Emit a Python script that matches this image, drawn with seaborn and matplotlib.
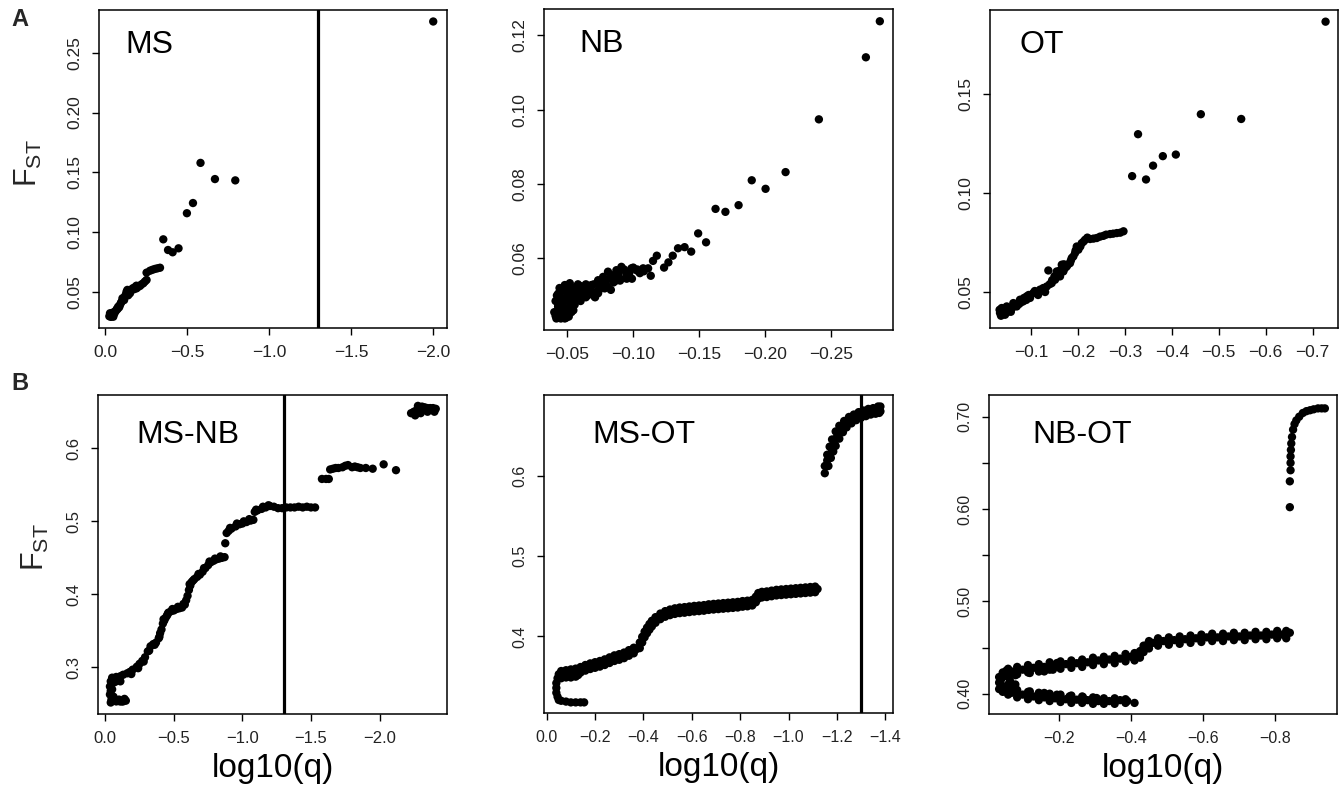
import matplotlib
matplotlib.use("Agg")
import matplotlib.pyplot as plt
import seaborn as sns
import pandas as pd

# ---------------- data ----------------
ms_x = [-2.0, -0.581, -0.669, -0.793, -0.535, -0.498, -0.354, -0.383, -0.411, -0.447,
        -0.334, -0.318, -0.303, -0.288, -0.273, -0.252, -0.252, -0.242, -0.232, -0.212,
        -0.191, -0.181, -0.161, -0.151, -0.130, -0.120, -0.110, -0.100, -0.090, -0.079,
        -0.070, -0.059, -0.049, -0.039, -0.029, -0.035, -0.045, -0.065, -0.085, -0.140,
        -0.170, -0.200, -0.220, -0.140, -0.115, -0.025, -0.040, -0.055, -0.075, -0.095,
        -0.105, -0.125, -0.135, -0.155, -0.175, -0.190]
ms_y = [0.276, 0.158, 0.1445, 0.1434, 0.1245, 0.116, 0.0942, 0.0853, 0.0834, 0.0867,
        0.0705, 0.0700, 0.0695, 0.0688, 0.0680, 0.0664, 0.0603, 0.0590, 0.0575, 0.0553,
        0.0533, 0.0542, 0.0525, 0.0492, 0.0505, 0.0463, 0.0445, 0.0422, 0.0394, 0.0380,
        0.0360, 0.0338, 0.0296, 0.0310, 0.0325, 0.0295, 0.0330, 0.0345, 0.0375, 0.0500,
        0.0535, 0.0545, 0.0565, 0.0475, 0.0435, 0.0300, 0.0305, 0.0320, 0.0360, 0.0410,
        0.0450, 0.0480, 0.0520, 0.0515, 0.0525, 0.0555]

nb_x = [-0.2873, -0.2767, -0.241, -0.2157, -0.2005, -0.190, -0.180, -0.170, -0.1625, -0.1553,
        -0.1493, -0.144, -0.139, -0.134, -0.130, -0.1267, -0.1234, -0.1179, -0.115, -0.1133,
        -0.1113, -0.1075, -0.1024, -0.0986, -0.0948, -0.091, -0.0897, -0.0872, -0.0834, -0.0808,
        -0.0783, -0.0771, -0.0733, -0.0733, -0.0707, -0.0682, -0.0657, -0.0632, -0.0606, -0.058,
        -0.0555, -0.0543, -0.0518, -0.0505, -0.048, -0.048, -0.0466, -0.0441, -0.0441, -0.0429,
        -0.0416, -0.0455, -0.050, -0.046, -0.053, -0.062, -0.068, -0.075, -0.085, -0.095,
        -0.105, -0.0435, -0.049,
        -0.040, -0.042, -0.044, -0.047, -0.047, -0.050, -0.052, -0.045, -0.048, -0.051,
        -0.053, -0.056, -0.058, -0.061, -0.064, -0.066, -0.070, -0.072, -0.076, -0.079,
        -0.082, -0.086, -0.089, -0.093, -0.097, -0.100, -0.104, -0.108, -0.064, -0.069,
        -0.074, -0.080, -0.087, -0.043, -0.041, -0.0555, -0.0545,
        -0.041, -0.043, -0.045, -0.046, -0.049, -0.051, -0.0525, -0.0505, -0.044, -0.047,
        -0.054, -0.057, -0.060, -0.059, -0.060, -0.065, -0.071, -0.078, -0.083, -0.090,
        -0.095, -0.099, -0.103]
nb_y = [0.1238, 0.1141, 0.0974, 0.0832, 0.0787, 0.0810, 0.0743, 0.0725, 0.0733, 0.0643,
        0.0667, 0.0618, 0.0630, 0.0627, 0.0607, 0.0589, 0.0575, 0.0607, 0.0593, 0.0553,
        0.0573, 0.0573, 0.0568, 0.0573, 0.0564, 0.0577, 0.0546, 0.0568, 0.0555, 0.0564,
        0.0519, 0.0550, 0.0541, 0.0506, 0.0497, 0.0528, 0.0501, 0.0523, 0.0497, 0.0519,
        0.0515, 0.0488, 0.0533, 0.0465, 0.0528, 0.0452, 0.0515, 0.0497, 0.0447, 0.0470,
        0.0438, 0.0480, 0.0500, 0.0460, 0.0505, 0.0510, 0.0512, 0.0525, 0.0535, 0.0545,
        0.0560, 0.0455, 0.0440,
        0.0455, 0.0500, 0.0520, 0.0485, 0.0445, 0.0525, 0.0480, 0.0438, 0.0438, 0.0443,
        0.0455, 0.0500, 0.0530, 0.0505, 0.0530, 0.0515, 0.0530, 0.0510, 0.0535, 0.0530,
        0.0545, 0.0550, 0.0560, 0.0570, 0.0560, 0.0575, 0.0565, 0.0565, 0.0495, 0.0505,
        0.0515, 0.0525, 0.0540, 0.0505, 0.0485, 0.0475, 0.0460,
        0.0445, 0.0475, 0.0495, 0.0515, 0.0510, 0.0495, 0.0470, 0.0450, 0.0440, 0.0470,
        0.0520, 0.0515, 0.0525, 0.0490, 0.0485, 0.0520, 0.0495, 0.0540, 0.0515, 0.0540,
        0.0555, 0.0545, 0.0570]

ot_x = [-0.7275, -0.4618, -0.5478, -0.328, -0.3154, -0.345, -0.360, -0.3808, -0.4085, -0.297,
        -0.2827, -0.2684, -0.2542, -0.240, -0.2258, -0.2151, -0.208, -0.2009, -0.1974, -0.1938,
        -0.1902, -0.1868, -0.1831, -0.1761, -0.1689, -0.1655, -0.1618, -0.1548, -0.1512, -0.1441,
        -0.1369, -0.1335, -0.1192, -0.1049, -0.0979, -0.0908, -0.0836, -0.0765, -0.0695, -0.0623,
        -0.0552, -0.0482, -0.0446, -0.041, -0.0375, -0.0339, -0.126, -0.112, -0.140, -0.158,
        -0.172, -0.179, -0.050, -0.060, -0.070, -0.080, -0.090, -0.036, -0.033,
        -0.043, -0.047, -0.052, -0.057, -0.065, -0.075, -0.085, -0.095, -0.108, -0.115,
        -0.130, -0.145, -0.150, -0.162, -0.170, -0.185, -0.195, -0.205, -0.212, -0.220,
        -0.233, -0.247, -0.260, -0.275, -0.290]
ot_y = [0.1867, 0.1399, 0.1375, 0.1298, 0.1086, 0.1069, 0.1139, 0.1187, 0.1195, 0.0807,
        0.0798, 0.0793, 0.0784, 0.0773, 0.0768, 0.0764, 0.0747, 0.0714, 0.0730, 0.0697,
        0.0680, 0.0672, 0.0646, 0.0629, 0.0604, 0.0638, 0.0579, 0.0604, 0.0562, 0.0545,
        0.0609, 0.0528, 0.0512, 0.0495, 0.0470, 0.0478, 0.0453, 0.0461, 0.0427, 0.0444,
        0.0411, 0.0427, 0.0385, 0.0402, 0.0419, 0.0394, 0.0520, 0.0500, 0.0540, 0.0580,
        0.0620, 0.0640, 0.0400, 0.0420, 0.0440, 0.0450, 0.0460, 0.0380, 0.0410,
        0.0405, 0.0395, 0.0420, 0.0400, 0.0430, 0.0440, 0.0470, 0.0485, 0.0505, 0.0485,
        0.0500, 0.0560, 0.0580, 0.0610, 0.0640, 0.0660, 0.0710, 0.0730, 0.0755, 0.0775,
        0.0770, 0.0780, 0.0790, 0.0795, 0.0800]

msnb_x = [-0.034, -0.034, -0.040, -0.045, -0.058, -0.080, -0.107, -0.130, -0.150, -0.040, -0.050,
          -0.050, -0.080, -0.110, -0.130, -0.160, -0.180, -0.200, -0.230, -0.250, -0.270,
          -0.290, -0.310, -0.330, -0.350, -0.370, -0.390, -0.400, -0.410, -0.420, -0.430,
          -0.440, -0.450, -0.460, -0.480, -0.500, -0.520, -0.540, -0.560, -0.580, -0.590,
          -0.600, -0.610, -0.620, -0.630, -0.650, -0.670, -0.690, -0.710, -0.730, -0.750,
          -0.770, -0.790, -0.810, -0.830, -0.850, -0.870, -0.875, -0.885, -0.900, -0.920,
          -0.950, -0.980, -1.000, -1.030, -1.060, -1.080, -1.090, -1.110, -1.140, -1.170,
          -1.200, -1.230, -1.260, -1.290, -1.320, -1.350, -1.380, -1.410, -1.440, -1.470,
          -1.500, -1.530, -1.580, -1.610, -1.630, -1.640, -1.660, -1.680, -1.700, -1.730,
          -1.750, -1.770, -1.800, -1.820, -1.840, -1.860, -1.900, -1.950, -2.030, -2.120,
          -2.230, -2.250, -2.270, -2.290, -2.310, -2.330, -2.350, -2.370, -2.390, -2.410,
          -2.260, -2.300, -2.350, -2.400, -2.280,
          -0.050, -0.060, -0.070, -0.090, -0.110, -0.120, -0.040, -0.100, -0.140, -0.060,
          -0.190, -0.240, -0.280, -0.320, -0.360, -0.395, -0.425, -0.455, -0.490, -0.530,
          -0.570, -0.615, -0.640, -0.680, -0.720, -0.760, -0.800, -0.840, -0.910, -0.960,
          -1.010, -1.050, -1.100, -1.150, -1.190]
msnb_y = [0.274, 0.263, 0.281, 0.256, 0.2545, 0.2535, 0.2535, 0.2535, 0.2545, 0.268, 0.278,
          0.286, 0.287, 0.288, 0.290, 0.292, 0.294, 0.297, 0.301, 0.305, 0.309,
          0.314, 0.322, 0.329, 0.332, 0.334, 0.340, 0.347, 0.352, 0.360, 0.364,
          0.368, 0.371, 0.375, 0.377, 0.378, 0.380, 0.381, 0.382, 0.386, 0.392,
          0.398, 0.406, 0.412, 0.417, 0.421, 0.424, 0.427, 0.431, 0.436, 0.440,
          0.444, 0.446, 0.448, 0.449, 0.450, 0.451, 0.470, 0.484, 0.487, 0.490,
          0.493, 0.496, 0.497, 0.499, 0.501, 0.502, 0.513, 0.515, 0.517, 0.519,
          0.521, 0.520, 0.518, 0.518, 0.519, 0.519, 0.519, 0.520, 0.519, 0.520,
          0.519, 0.519, 0.558, 0.558, 0.558, 0.571, 0.572, 0.573, 0.573, 0.574,
          0.576, 0.577, 0.574, 0.575, 0.574, 0.573, 0.573, 0.572, 0.578, 0.570,
          0.648, 0.650, 0.652, 0.655, 0.657, 0.656, 0.655, 0.655, 0.655, 0.654,
          0.645, 0.648, 0.650, 0.650, 0.658,
          0.270, 0.260, 0.280, 0.283, 0.281, 0.2535, 0.252, 0.256, 0.257, 0.284,
          0.291, 0.299, 0.308, 0.323, 0.331, 0.342, 0.366, 0.373, 0.380, 0.383,
          0.387, 0.414, 0.419, 0.428, 0.436, 0.445, 0.449, 0.452, 0.491, 0.497,
          0.500, 0.503, 0.516, 0.520, 0.522]

msot_x = [-0.045, -0.040, -0.040, -0.040, -0.045, -0.050, -0.060, -0.080, -0.100, -0.120, -0.140,
          -0.155, -0.060, -0.080, -0.100, -0.120, -0.130, -0.050, -0.070, -0.090, -0.110,
          -0.130, -0.150, -0.170, -0.190, -0.210, -0.230, -0.250, -0.270, -0.290, -0.310,
          -0.330, -0.350, -0.370, -0.380, -0.390, -0.400, -0.410, -0.420, -0.430, -0.440,
          -0.460, -0.480, -0.500, -0.520, -0.540, -0.560, -0.580, -0.600, -0.620, -0.640,
          -0.660, -0.680, -0.700, -0.720, -0.740, -0.760, -0.780, -0.800, -0.820, -0.840,
          -0.860, -0.870, -0.880, -0.900, -0.920, -0.940, -0.960, -0.980, -1.000, -1.020,
          -1.040, -1.060, -1.080, -1.100, -1.120, -1.150, -1.155, -1.160, -1.170, -1.180,
          -1.190, -1.200, -1.210, -1.220, -1.230, -1.240, -1.250, -1.260, -1.270, -1.280,
          -1.290, -1.300, -1.310, -1.320, -1.330, -1.340, -1.350, -1.360, -1.370, -1.380,
          -1.375,
          -1.165, -1.175, -1.185, -1.195, -1.210, -1.225, -1.240, -1.260, -1.280, -1.300,
          -1.320, -1.340, -1.360, -1.380, -1.150, -1.160, -1.170, -1.180, -1.195, -1.210,
          -1.230, -1.250, -1.270, -1.290, -1.310, -1.330, -1.350, -1.370]
msot_y = [0.348, 0.342, 0.336, 0.330, 0.325, 0.321, 0.320, 0.319, 0.318, 0.318, 0.318,
          0.318, 0.348, 0.349, 0.349, 0.350, 0.352, 0.353, 0.354, 0.355, 0.356,
          0.357, 0.360, 0.362, 0.364, 0.365, 0.367, 0.369, 0.372, 0.374, 0.375,
          0.378, 0.381, 0.384, 0.386, 0.392, 0.400, 0.405, 0.410, 0.414, 0.418,
          0.423, 0.427, 0.429, 0.431, 0.432, 0.433, 0.4335, 0.434, 0.435, 0.435,
          0.436, 0.437, 0.437, 0.438, 0.438, 0.439, 0.439, 0.440, 0.441, 0.441,
          0.443, 0.449, 0.452, 0.452, 0.453, 0.454, 0.455, 0.455, 0.456, 0.456,
          0.457, 0.457, 0.458, 0.458, 0.459, 0.603, 0.612, 0.619, 0.626, 0.632,
          0.640, 0.648, 0.653, 0.658, 0.662, 0.665, 0.668, 0.670, 0.672, 0.674,
          0.676, 0.677, 0.678, 0.679, 0.680, 0.680, 0.681, 0.682, 0.683, 0.686,
          0.678,
          0.612, 0.622, 0.630, 0.637, 0.646, 0.654, 0.660, 0.665, 0.669, 0.672,
          0.674, 0.676, 0.677, 0.680, 0.612, 0.626, 0.636, 0.645, 0.655, 0.662,
          0.668, 0.673, 0.676, 0.679, 0.681, 0.683, 0.684, 0.686]

# upper and lower edge rows of the dense MS-OT band
msot_band_x = [-0.06, -0.08, -0.10, -0.12, -0.14, -0.16, -0.18, -0.20, -0.22, -0.24,
               -0.26, -0.28, -0.30, -0.32, -0.34, -0.36, -0.385, -0.395, -0.405, -0.415,
               -0.425, -0.435, -0.45, -0.47, -0.49, -0.51, -0.53, -0.55, -0.57, -0.59,
               -0.61, -0.63, -0.65, -0.67, -0.69, -0.71, -0.73, -0.75, -0.77, -0.79,
               -0.81, -0.83, -0.85, -0.865, -0.875, -0.89, -0.91, -0.93, -0.95, -0.97,
               -0.99, -1.01, -1.03, -1.05, -1.07, -1.09, -1.11]
msot_band_hi = [0.357, 0.358, 0.359, 0.360, 0.362, 0.3645, 0.3665, 0.368, 0.3695, 0.3715,
                0.374, 0.3765, 0.378, 0.380, 0.383, 0.386, 0.3925, 0.3995, 0.406, 0.411,
                0.4155, 0.4195, 0.424, 0.4285, 0.4315, 0.4335, 0.435, 0.436, 0.4365, 0.4373,
                0.438, 0.4385, 0.439, 0.440, 0.4405, 0.441, 0.4415, 0.442, 0.4425, 0.443,
                0.444, 0.4445, 0.4455, 0.4495, 0.454, 0.4555, 0.456, 0.457, 0.458, 0.4585,
                0.459, 0.4595, 0.460, 0.4605, 0.461, 0.4615, 0.462]
msot_band_lo = [0.350, 0.351, 0.352, 0.353, 0.355, 0.3575, 0.3595, 0.361, 0.3625, 0.3645,
                0.367, 0.3695, 0.371, 0.373, 0.376, 0.379, 0.3855, 0.3925, 0.399, 0.404,
                0.4085, 0.4125, 0.417, 0.4215, 0.4245, 0.4265, 0.428, 0.429, 0.4295, 0.4303,
                0.431, 0.4315, 0.432, 0.433, 0.4335, 0.434, 0.4345, 0.435, 0.4355, 0.436,
                0.437, 0.4375, 0.4385, 0.4425, 0.447, 0.4485, 0.449, 0.450, 0.451, 0.4515,
                0.452, 0.4525, 0.453, 0.4535, 0.454, 0.4545, 0.455]

nbot_x = [-0.050, -0.070, -0.100, -0.130, -0.160, -0.190, -0.220, -0.250, -0.280, -0.310,
          -0.340, -0.370, -0.400, -0.420, -0.430, -0.440, -0.460, -0.490, -0.520, -0.550,
          -0.580, -0.610, -0.640, -0.670, -0.700, -0.730, -0.760, -0.790, -0.820, -0.840,
          -0.040, -0.050, -0.070, -0.100, -0.130, -0.160, -0.190, -0.220, -0.250, -0.280,
          -0.310, -0.340, -0.370, -0.390, -0.410, -0.040, -0.045, -0.060, -0.080, -0.060,
          -0.035, -0.080, -0.080, -0.120, -0.120, -0.160, -0.160, -0.195, -0.230, -0.195,
          -0.184, -0.305, -0.267,
          -0.840, -0.840, -0.842, -0.842, -0.842, -0.843, -0.844, -0.846, -0.849, -0.853,
          -0.858, -0.866, -0.876, -0.886, -0.896, -0.906, -0.918, -0.928, -0.937,
          -0.035, -0.035, -0.045, -0.045, -0.065, -0.075, -0.055]
nbot_y = [0.421, 0.424, 0.426, 0.428, 0.429, 0.431, 0.432, 0.433, 0.434, 0.436,
          0.437, 0.438, 0.440, 0.441, 0.447, 0.452, 0.455, 0.457, 0.458, 0.459,
          0.460, 0.461, 0.461, 0.462, 0.462, 0.463, 0.463, 0.464, 0.464, 0.466,
          0.410, 0.404, 0.401, 0.399, 0.397, 0.396, 0.395, 0.394, 0.3935, 0.393,
          0.392, 0.392, 0.393, 0.392, 0.390, 0.415, 0.419, 0.410, 0.410, 0.418,
          0.412, 0.420, 0.402, 0.4224, 0.4025, 0.4241, 0.4008, 0.3989, 0.3971, 0.4332,
          0.426, 0.3953, 0.3964,
          0.602, 0.630, 0.642, 0.650, 0.657, 0.664, 0.671, 0.678, 0.686, 0.692,
          0.696, 0.700, 0.704, 0.706, 0.707, 0.708, 0.709, 0.709, 0.709,
          0.418, 0.405, 0.402, 0.423, 0.414, 0.408, 0.425]

# edge and middle rows of the dense NB-OT U-shaped band
nbot_up_x = [-0.06, -0.085, -0.115, -0.145, -0.175, -0.205, -0.235, -0.265, -0.295, -0.325,
             -0.355, -0.385, -0.41, -0.425, -0.435, -0.45, -0.475, -0.505, -0.535, -0.565,
             -0.595, -0.625, -0.655, -0.685, -0.715, -0.745, -0.775, -0.805, -0.83]
nbot_up_hi = [0.427, 0.429, 0.431, 0.432, 0.434, 0.435, 0.436, 0.437, 0.439, 0.440,
              0.441, 0.443, 0.444, 0.446, 0.452, 0.457, 0.460, 0.461, 0.462, 0.463,
              0.464, 0.465, 0.465, 0.466, 0.466, 0.467, 0.467, 0.468, 0.468]
nbot_up_mid = [0.423, 0.425, 0.427, 0.428, 0.430, 0.431, 0.432, 0.433, 0.435, 0.436,
               0.437, 0.439, 0.440, 0.4425, 0.4485, 0.453, 0.456, 0.457, 0.458, 0.459,
               0.460, 0.461, 0.461, 0.462, 0.462, 0.463, 0.463, 0.464, 0.464]
nbot_up_lo = [0.419, 0.421, 0.423, 0.424, 0.426, 0.427, 0.428, 0.429, 0.431, 0.432,
              0.433, 0.435, 0.436, 0.439, 0.445, 0.449, 0.452, 0.453, 0.454, 0.455,
              0.456, 0.457, 0.457, 0.458, 0.458, 0.459, 0.459, 0.460, 0.460]
nbot_lo_x = [-0.06, -0.085, -0.115, -0.145, -0.175, -0.205, -0.235, -0.265, -0.295, -0.325,
             -0.355, -0.385]
nbot_lo_hi = [0.407, 0.404, 0.402, 0.401, 0.400, 0.399, 0.398, 0.397, 0.396, 0.395,
              0.395, 0.394]
nbot_lo_mid = [0.403, 0.400, 0.398, 0.397, 0.396, 0.395, 0.394, 0.3935, 0.3925, 0.392,
               0.392, 0.392]
nbot_lo_lo = [0.399, 0.396, 0.394, 0.393, 0.392, 0.391, 0.390, 0.390, 0.389, 0.389,
              0.389, 0.390]

panel_names = ["MS", "NB", "OT", "MS-NB", "MS-OT", "NB-OT"]
threshold_x = -1.30          # log10(0.05)
threshold_panels = ["MS", "MS-NB", "MS-OT"]

xtick_vals = {
    "MS": [0.0, -0.5, -1.0, -1.5, -2.0],
    "NB": [-0.05, -0.10, -0.15, -0.20, -0.25],
    "OT": [-0.1, -0.2, -0.3, -0.4, -0.5, -0.6, -0.7],
    "MS-NB": [0.0, -0.5, -1.0, -1.5, -2.0],
    "MS-OT": [0.0, -0.2, -0.4, -0.6, -0.8, -1.0, -1.2, -1.4],
    "NB-OT": [-0.2, -0.4, -0.6, -0.8],
}
ytick_vals = {
    "MS": [0.05, 0.10, 0.15, 0.20, 0.25],
    "NB": [0.06, 0.08, 0.10, 0.12],
    "OT": [0.05, 0.10, 0.15],
    "MS-NB": [0.3, 0.4, 0.5, 0.6],
    "MS-OT": [0.4, 0.5, 0.6],
    "NB-OT": [0.40, 0.45, 0.50, 0.55, 0.60, 0.65, 0.70],
}
ytick_text = {
    "MS": ["0.05", "0.10", "0.15", "0.20", "0.25"],
    "NB": ["0.06", "0.08", "0.10", "0.12"],
    "OT": ["0.05", "0.10", "0.15"],
    "MS-NB": ["0.3", "0.4", "0.5", "0.6"],
    "MS-OT": ["0.4", "0.5", "0.6"],
    "NB-OT": ["0.40", "", "0.50", "", "0.60", "", "0.70"],
}
xtick_dec = {"MS": 1, "NB": 2, "OT": 1, "MS-NB": 1, "MS-OT": 1, "NB-OT": 1}

series = {
    "MS": (ms_x, ms_y),
    "NB": (nb_x, nb_y),
    "OT": (ot_x, ot_y),
    "MS-NB": (msnb_x, msnb_y),
    "MS-OT": (msot_x + msot_band_x + msot_band_x, msot_y + msot_band_hi + msot_band_lo),
    "NB-OT": (nbot_x + nbot_up_x * 3 + nbot_lo_x * 3,
              nbot_y + nbot_up_hi + nbot_up_mid + nbot_up_lo
              + nbot_lo_hi + nbot_lo_mid + nbot_lo_lo),
}

# ---------------- layout ----------------
W, H = 1340, 796
layout = {   # left, right, top, bottom in pixels
    "MS": (99, 447, 10, 328), "NB": (544, 893, 9, 330), "OT": (990, 1338, 10, 328),
    "MS-NB": (98, 447, 395, 714), "MS-OT": (544, 893, 395, 713), "NB-OT": (989, 1337, 395, 714),
}
limits = {   # xlim (left, right), ylim (bottom, top)
    "MS": ((0.038, -2.084), (0.0202, 0.2856)),
    "NB": ((-0.0322, -0.2973), (0.0407, 0.1271)),
    "OT": ((-0.0126, -0.754), (0.0318, 0.1926)),
    "MS-NB": ((0.053, -2.492), (0.2363, 0.6729)),
    "MS-OT": ((0.011, -1.432), (0.3048, 0.7003)),
    "NB-OT": ((-0.007, -0.9706), (0.378, 0.7235)),
}
label_pos = {"MS": (0.075, 0.89), "NB": (0.102, 0.89), "OT": (0.084, 0.89),
             "MS-NB": (0.111, 0.875), "MS-OT": (0.14, 0.875), "NB-OT": (0.125, 0.875)}
tick_fs = {"MS": 12.5, "NB": 12.5, "OT": 12.5, "MS-NB": 12, "MS-OT": 11.5, "NB-OT": 11.5}

sns.set_theme(style="ticks")
plt.rcParams["font.family"] = ["Liberation Sans", "DejaVu Sans"]
plt.rcParams["mathtext.fontset"] = "custom"
plt.rcParams["mathtext.rm"] = "Liberation Sans"

fig = plt.figure(figsize=(W / 100, H / 100), dpi=100)
fig.patch.set_facecolor("white")

for name in panel_names:
    l, r, t, b = layout[name]
    ax = fig.add_axes([l / W, 1 - b / H, (r - l) / W, (b - t) / H])
    xs, ys = series[name]
    df = pd.DataFrame({"q": xs, "fst": ys})
    sns.scatterplot(data=df, x="q", y="fst", ax=ax, color="black", s=36,
                    linewidth=0, edgecolor="none", legend=False)
    if name in threshold_panels:
        ax.axvline(threshold_x, color="black", lw=2.3, zorder=3)
    (x0, x1), (y0, y1) = limits[name]
    ax.set_xlim(x0, x1)
    ax.set_ylim(y0, y1)
    d = xtick_dec[name]
    ax.set_xticks(xtick_vals[name])
    ax.set_xticklabels([f"{v:.{d}f}".replace("-", "\u2212") for v in xtick_vals[name]],
                       fontsize=tick_fs[name])
    ax.set_yticks(ytick_vals[name])
    ax.set_yticklabels(ytick_text[name], rotation=90, va="center", fontsize=tick_fs[name])
    ax.tick_params(axis="both", direction="out", length=5, width=1, color="black",
                   pad=7, labelcolor="#222222")
    for sp in ax.spines.values():
        sp.set_linewidth(1.1)
        sp.set_color("black")
    ax.set_xlabel("")
    ax.set_ylabel("")
    ax.text(label_pos[name][0], label_pos[name][1], name, transform=ax.transAxes,
            fontsize=23, ha="left", va="center", color="black")
    if name in ("MS-NB", "MS-OT", "NB-OT"):
        ax.text(0.5, -0.17, "log10(q)", transform=ax.transAxes, fontsize=24,
                ha="center", va="center", color="black")

fig.text(28 / W, 1 - 163 / H, r"$\mathregular{F_{ST}}$", rotation=90, fontsize=22,
         ha="center", va="center")
fig.text(35 / W, 1 - 547 / H, r"$\mathregular{F_{ST}}$", rotation=90, fontsize=22,
         ha="center", va="center")
fig.text(20 / W, 1 - 20 / H, "A", fontsize=17, fontweight="bold", ha="center", va="center")
fig.text(20 / W, 1 - 383 / H, "B", fontsize=17, fontweight="bold", ha="center", va="center")

fig.savefig("out.png", dpi=100, facecolor="white")
